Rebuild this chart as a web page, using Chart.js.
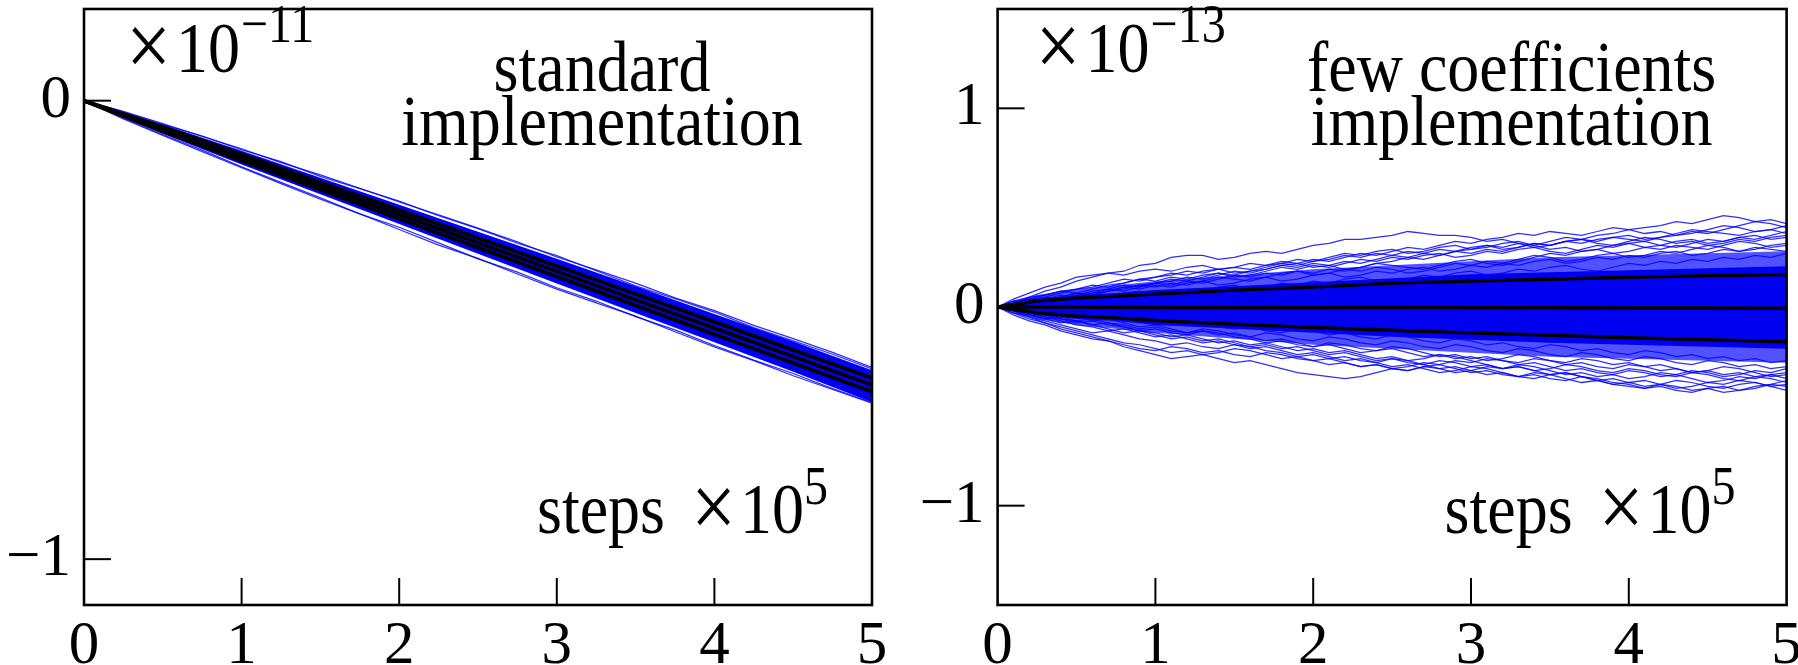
<!DOCTYPE html>
<html>
<head>
<meta charset="utf-8">
<script src="https://cdn.jsdelivr.net/npm/chart.js@4.4.1/dist/chart.umd.min.js"></script>
<style>
  html, body { margin: 0; padding: 0; background: #fff; width: 1798px; height: 665px; overflow: hidden; }
  .panel { position: absolute; top: 0; height: 665px; }
  #wrapL { left: 0; width: 920px; }
  #wrapR { left: 900px; width: 898px; }
</style>
</head>
<body>
<div class="panel" id="wrapL"><canvas id="left" width="920" height="665"></canvas></div>
<div class="panel" id="wrapR"><canvas id="right" width="898" height="665"></canvas></div>
<script>
// ---- axis ticks ----
const STEP_TICKS = [0, 1, 2, 3, 4, 5];          // steps, x 10^5
const LEFT_Y_TICKS = [-1, 0];                   // x 10^-11
const RIGHT_Y_TICKS = [-1, 0, 1];               // x 10^-13

// ---- standard implementation (values in hundredths of 1e-11) ----
const leftGrid = [0, 0.5, 1, 1.5, 2, 2.5, 3, 3.5, 4, 4.5, 5];
const leftMean = [0, -6.2, -12.4, -18.6, -24.8, -31, -37.2, -43.4, -49.6, -55.8, -62];
const leftSigmaUpper = [0, -5.7, -11.7, -17.8, -23.85, -29.95, -36.05, -42.15, -48.25, -54.38, -60.5];
const leftSigmaLower = [0, -6.7, -13.1, -19.4, -25.75, -32.05, -38.35, -44.65, -50.95, -57.22, -63.5];
const leftBandUpper = [0, -5.2, -10.9, -16.8, -22.7, -28.6, -34.5, -40.5, -46.5, -52.5, -58.8];
const leftBandLower = [0, -7.2, -13.9, -20.4, -26.9, -33.4, -39.9, -46.3, -52.7, -59.1, -65.8];

const leftWalkSteps = [0, 0.25, 0.5, 0.75, 1, 1.25, 1.5, 1.75, 2, 2.25, 2.5, 2.75, 3, 3.25, 3.5, 3.75, 4, 4.25, 4.5, 4.75, 5];
const leftWalks = [
  [0, -2.3, -5.0, -7.8, -10.5, -13.5, -16.2, -19.1, -22.1, -24.9, -27.8, -30.8, -34.1, -36.9, -39.8, -43.0, -45.8, -49.0, -51.9, -54.9, -58.2],
  [0, -4.0, -7.6, -11.1, -14.6, -18.1, -21.5, -24.7, -28.1, -31.5, -34.4, -37.8, -41.1, -44.1, -47.0, -50.4, -53.7, -56.7, -60.0, -63.0, -66.0],
  [0, -2.5, -5.2, -7.7, -10.7, -13.3, -16.5, -19.2, -21.9, -25.1, -27.9, -31.1, -33.8, -37.1, -40.4, -43.2, -46.1, -49.5, -52.4, -55.3, -58.5],
  [0, -3.8, -7.4, -10.8, -14.4, -17.8, -21.2, -24.7, -27.6, -31.0, -34.5, -37.4, -40.8, -43.7, -47.1, -50.0, -53.4, -56.6, -59.5, -62.8, -65.8]
];

// ---- few coefficients implementation (values in hundredths of 1e-13) ----
const rightGrid = [0, 0.25, 0.5, 0.75, 1, 1.5, 2, 2.5, 3, 3.5, 4, 4.5, 5];
const rightMean = [0, 0, 0, -0.2, -0.3, -0.3, -0.3, -0.2, -0.3, -0.4, -0.5, -0.5, -0.6];
const rightSigmaUpper = [0, 3, 4.5, 5.5, 6.5, 8.5, 10, 12, 13, 14, 15, 15.8, 16.3];
const rightSigmaLower = [0, -3, -4.5, -5.5, -6.8, -8.7, -10.3, -11.7, -13, -14.2, -15.5, -16.5, -17.5];
const rightCoreUpper = [0, 4, 6, 7, 8.5, 10.5, 12.5, 14.5, 16.5, 17.5, 18.5, 19.5, 20.5];
const rightCoreLower = [0, -4, -6, -7, -9, -11, -13, -15, -16.5, -18, -19, -20, -21];
const rightHaloUpper = [0, 6, 9, 11, 13, 16, 19, 21, 23, 25, 26, 27, 28];
const rightHaloLower = [0, -6, -9, -11, -13, -16, -19, -21, -23, -25, -26, -27, -28];

const walkSteps = [0, 0.1, 0.2, 0.3, 0.4, 0.5, 0.6, 0.7, 0.8, 0.9,
  1, 1.1, 1.2, 1.3, 1.4, 1.5, 1.6, 1.7, 1.8, 1.9,
  2, 2.1, 2.2, 2.3, 2.4, 2.5, 2.6, 2.7, 2.8, 2.9,
  3, 3.1, 3.2, 3.3, 3.4, 3.5, 3.6, 3.7, 3.8, 3.9,
  4, 4.1, 4.2, 4.3, 4.4, 4.5, 4.6, 4.7, 4.8, 4.9, 5];
const rightWalks = [
  [0,3,5,8,10,13,15,17,18,21, 22,25,26,26,24,25,27,28,27,29, 31,32,34,34,35,36,38,37,36,36, 35,33,34,32,30,31,33,34,36,37, 39,40,41,43,42,44,46,45,43,44, 42],
  [0,2,4,5,7,9,10,12,14,13, 15,16,18,17,19,20,19,21,22,21, 23,24,26,25,27,26,28,27,29,28, 30,31,29,30,32,31,33,32,34,35, 34,33,35,36,38,37,39,41,43,42, 40],
  [0,3,4,6,8,7,9,11,12,14, 13,15,14,16,17,15,16,18,20,19, 21,20,22,24,23,25,24,26,27,25, 26,28,27,29,30,28,27,29,31,30, 32,33,31,30,32,34,33,35,36,34, 35],
  [0,2,3,5,4,6,8,9,11,10, 12,11,13,12,14,16,15,17,16,18, 17,19,18,20,22,21,20,19,21,23, 24,22,21,23,25,27,26,28,29,27, 28,30,29,31,30,29,31,33,32,30, 31],
  [0,4,7,10,12,15,16,17,16,18, 19,18,20,21,19,20,22,21,23,22, 20,21,23,22,24,26,25,27,26,28, 29,31,30,32,31,33,35,34,33,35, 36,34,35,37,39,38,37,36,38,39, 37],
  [0,2,4,3,5,7,6,8,9,11, 12,14,13,15,17,16,18,19,21,20, 22,21,19,20,22,23,25,24,26,28, 27,29,28,30,32,31,33,34,32,31, 33,35,34,32,33,31,32,34,33,35, 36],
  [0,1,3,4,6,5,7,8,10,9, 11,10,12,13,11,12,14,15,13,14, 16,17,15,16,18,17,19,20,18,19, 21,20,22,21,23,24,22,23,25,24, 26,25,27,28,26,27,29,28,30,29, 28],
  [0,2,3,2,4,6,7,9,8,10, 12,13,15,14,16,18,17,19,21,22, 24,23,25,27,26,28,30,29,31,33, 32,34,35,37,36,38,37,36,38,40, 39,37,38,36,37,39,41,40,38,39, 41],
  [0,3,2,4,5,7,6,8,10,11, 10,12,11,13,15,14,13,15,17,18, 16,17,19,18,20,19,17,18,20,22, 21,23,22,24,26,25,23,24,26,27, 25,26,28,27,29,31,30,28,29,31, 32],
  [0,2,5,6,8,9,11,10,12,14, 15,17,16,18,19,17,18,20,22,24, 23,25,27,26,28,29,27,28,30,31, 29,30,32,33,31,29,30,28,29,31, 32,30,31,33,34,32,33,35,34,36, 38],
  [0,-3,-6,-8,-11,-13,-15,-17,-20,-22, -24,-26,-25,-24,-26,-28,-27,-29,-31,-33, -34,-35,-36,-35,-33,-31,-32,-30,-29,-31, -33,-32,-34,-35,-33,-34,-36,-38,-37,-39, -40,-41,-39,-40,-42,-41,-43,-42,-40,-39, -37],
  [0,-2,-4,-5,-7,-9,-10,-12,-11,-13, -15,-14,-16,-18,-17,-19,-21,-20,-22,-24, -23,-25,-27,-26,-28,-30,-29,-31,-33,-32, -30,-31,-33,-35,-34,-36,-37,-35,-36,-38, -39,-41,-40,-42,-43,-41,-40,-42,-41,-39, -40],
  [0,-3,-4,-6,-8,-7,-9,-11,-13,-12, -14,-16,-15,-17,-16,-18,-20,-19,-21,-20, -22,-24,-23,-25,-27,-26,-28,-29,-27,-28, -30,-29,-31,-30,-32,-31,-29,-30,-32,-33, -31,-32,-34,-35,-33,-34,-36,-37,-35,-34, -36],
  [0,-4,-7,-9,-12,-14,-16,-17,-19,-21, -22,-20,-21,-23,-22,-24,-25,-23,-24,-26, -27,-29,-28,-30,-29,-31,-30,-28,-29,-27, -28,-26,-27,-29,-28,-30,-32,-31,-33,-34, -32,-33,-35,-34,-36,-38,-37,-35,-36,-34, -33],
  [0,-2,-3,-5,-6,-8,-7,-9,-10,-12, -11,-13,-14,-12,-13,-15,-16,-18,-17,-19, -20,-18,-19,-21,-22,-20,-21,-23,-25,-24, -26,-25,-27,-28,-26,-27,-29,-28,-30,-31, -29,-30,-32,-31,-33,-32,-30,-31,-33,-35, -34],
  [0,-2,-4,-6,-5,-7,-9,-8,-10,-12, -13,-15,-14,-16,-18,-17,-19,-18,-20,-22, -21,-23,-22,-24,-26,-25,-27,-26,-24,-25, -27,-29,-31,-30,-32,-34,-33,-35,-37,-36, -38,-37,-39,-41,-40,-38,-39,-37,-38,-40, -42],
  [0,-1,-3,-4,-6,-7,-6,-8,-9,-11, -10,-12,-13,-11,-12,-14,-15,-13,-14,-16, -17,-15,-16,-18,-19,-17,-18,-20,-21,-19, -20,-22,-23,-21,-22,-24,-25,-23,-24,-26, -27,-25,-26,-28,-29,-27,-28,-30,-29,-31, -30],
  [0,-3,-5,-8,-10,-12,-14,-16,-18,-19, -21,-23,-22,-24,-23,-21,-22,-24,-26,-25, -27,-26,-28,-30,-29,-31,-32,-30,-31,-33, -32,-30,-31,-29,-30,-32,-34,-33,-35,-34, -36,-35,-33,-34,-32,-33,-35,-34,-32,-33, -31],
  [0,-2,-3,-2,-4,-5,-7,-6,-8,-10, -9,-11,-13,-12,-14,-13,-15,-17,-16,-18, -20,-19,-21,-23,-22,-21,-23,-25,-24,-26, -25,-27,-26,-24,-25,-27,-28,-26,-27,-29, -28,-30,-29,-31,-33,-32,-34,-33,-35,-36, -38],
  [0,-2,-5,-7,-9,-11,-13,-12,-14,-16, -17,-19,-18,-20,-21,-19,-20,-22,-23,-25, -24,-26,-25,-27,-28,-26,-27,-29,-31,-30, -32,-34,-33,-35,-36,-34,-33,-35,-37,-39, -38,-40,-39,-37,-38,-40,-41,-39,-38,-40, -39],
  [0,2,1,3,5,4,6,5,7,8, 6,7,9,8,10,11,9,10,12,11, 13,12,14,15,13,12,14,16,15,17, 18,16,17,19,18,20,21,19,18,20, 22,21,23,22,24,23,25,24,26,25, 27],
  [0,-1,-3,-2,-4,-5,-4,-6,-7,-6, -8,-9,-7,-8,-10,-11,-10,-12,-13,-11, -12,-14,-13,-15,-16,-14,-15,-17,-18,-16, -17,-19,-18,-20,-21,-19,-20,-22,-21,-23, -24,-22,-23,-25,-24,-26,-25,-27,-26,-28, -27]
];

// ---- drawing helpers ----
const SERIF = '"Liberation Serif", "Times New Roman", serif';
const BLUE_LINE = 'rgba(0,0,255,0.82)';
const TEXT_STRETCH = 1.13;   // the serif captions are slightly tall and narrow
const pts = (xs, ys) => xs.map((x, i) => ({ x, y: ys[i] / 100 }));
const minusFmt = v => (v < 0 ? '\u2212' + Math.abs(v) : String(v));

function line(data, color, width, order, extra) {
  return Object.assign({ data, borderColor: color, borderWidth: width, pointRadius: 0,
    fill: false, tension: 0, order }, extra || {});
}

function buildDatasets(p) {
  const ds = [];
  // mean and +/- one standard deviation
  ds.push(line(pts(p.grid, p.mean), '#000', p.statWidth, 0));
  ds.push(line(pts(p.grid, p.sigU), '#000', p.statWidth, 0));
  ds.push(line(pts(p.grid, p.sigL), '#000', p.statWidth, 0));
  // individual runs
  p.walks.forEach(w => ds.push(line(pts(p.walkSteps, w), BLUE_LINE, 1.25, 1)));
  // dense core of runs
  ds.push(line(pts(p.grid, p.coreU), 'rgba(0,0,0,0)', 0, 2, { fill: '+1', backgroundColor: p.coreColor }));
  ds.push(line(pts(p.grid, p.coreL), 'rgba(0,0,0,0)', 0, 2));
  if (p.haloU) {
    ds.push(line(pts(p.grid, p.haloU), 'rgba(0,0,0,0)', 0, 3, { fill: '+1', backgroundColor: 'rgba(0,0,255,0.68)' }));
    ds.push(line(pts(p.grid, p.haloL), 'rgba(0,0,0,0)', 0, 3));
  }
  return ds;
}

// frame, inward tick marks and in-plot captions
const framePlugin = {
  id: 'frame',
  afterDraw(chart, args, opts) {
    const { ctx, chartArea: a, scales } = chart;
    ctx.save();
    ctx.strokeStyle = '#000';
    ctx.lineWidth = 2;
    const tl = 27;
    scales.x.ticks.forEach(t => {
      const px = scales.x.getPixelForValue(t.value);
      if (px > a.left + 2 && px < a.right - 2) {
        ctx.beginPath(); ctx.moveTo(px, a.bottom); ctx.lineTo(px, a.bottom - tl); ctx.stroke();
      }
    });
    scales.y.ticks.forEach(t => {
      const py = scales.y.getPixelForValue(t.value);
      ctx.beginPath(); ctx.moveTo(a.left, py); ctx.lineTo(a.left + tl, py); ctx.stroke();
    });
    ctx.lineWidth = 2.6;
    ctx.strokeRect(a.left, a.top, a.right - a.left, a.bottom - a.top);

    ctx.fillStyle = '#000';
    ctx.textBaseline = 'alphabetic';
    const big = '64px ' + SERIF, small = '48px ' + SERIF, times = '80px ' + SERIF;
    const ox = a.left, oy = a.top;
    const put = (txt, x, y, font, align) => {
      ctx.save();
      ctx.font = font; ctx.textAlign = align || 'left';
      ctx.translate(ox + x, oy + y);
      ctx.scale(1, TEXT_STRETCH);
      ctx.fillText(txt, 0, 0);
      ctx.restore();
    };
    // scale factor of the vertical axis
    put('\u00d7', opts.exp.x - 2, opts.exp.y + 4, times);
    put('10', opts.exp.x + 48, opts.exp.y, big);
    put(opts.exp.power, opts.exp.x + 113, opts.exp.y - 30, small);
    // caption
    put(opts.title[0], opts.titleX, opts.titleY, big, 'center');
    put(opts.title[1], opts.titleX, opts.titleY + 54, big, 'center');
    // horizontal axis name and scale
    put('steps', opts.steps.x, opts.steps.y, big);
    put('\u00d7', opts.steps.x + 154, opts.steps.y + 4, times);
    put('10', opts.steps.x + 203, opts.steps.y, big);
    put('5', opts.steps.x + 267, opts.steps.y - 29, small);
    ctx.restore();
  }
};

function makeChart(id, p) {
  const tickFont = { family: SERIF, size: 61 };
  return new Chart(document.getElementById(id), {
    type: 'line',
    data: { datasets: buildDatasets(p) },
    plugins: [framePlugin],
    options: {
      responsive: false,
      animation: false,
      events: [],
      layout: { padding: p.padding, autoPadding: false },
      plugins: { legend: { display: false }, tooltip: { enabled: false }, frame: p.captions },
      scales: {
        x: {
          type: 'linear', min: 0, max: 5,
          afterBuildTicks: s => { s.ticks = STEP_TICKS.map(v => ({ value: v })); },
          afterFit: s => { s.height = 60; s.paddingLeft = 0; s.paddingRight = 0; },
          grid: { display: false, drawTicks: false },
          border: { display: false },
          ticks: { font: tickFont, color: '#000', padding: 5, maxRotation: 0, autoSkip: false, callback: minusFmt }
        },
        y: {
          type: 'linear', min: p.yMin, max: p.yMax,
          afterBuildTicks: s => { s.ticks = p.yTicks.map(v => ({ value: v })); },
          afterFit: s => { s.width = p.yWidth; s.paddingTop = 0; s.paddingBottom = 0; },
          grid: { display: false, drawTicks: false },
          border: { display: false },
          ticks: { font: tickFont, color: '#000', padding: 13, autoSkip: false, callback: minusFmt }
        }
      }
    }
  });
}

makeChart('left', {
  grid: leftGrid, mean: leftMean, sigU: leftSigmaUpper, sigL: leftSigmaLower,
  coreU: leftBandUpper, coreL: leftBandLower, coreColor: '#0000f4', statWidth: 3.8,
  walkSteps: leftWalkSteps, walks: leftWalks,
  yMin: -1.1, yMax: 0.2, yTicks: LEFT_Y_TICKS, yWidth: 84,
  padding: { left: 0, top: 9, right: 48, bottom: 0 },
  captions: {
    exp: { x: 44, y: 63, power: '\u221211' },
    title: ['standard', 'implementation'], titleX: 518, titleY: 82,
    steps: { x: 453, y: 524 }
  }
});

makeChart('right', {
  grid: rightGrid, mean: rightMean, sigU: rightSigmaUpper, sigL: rightSigmaLower,
  coreU: rightCoreUpper, coreL: rightCoreLower, coreColor: '#0000f0', statWidth: 3.4,
  haloU: rightHaloUpper, haloL: rightHaloLower,
  walkSteps: walkSteps, walks: rightWalks,
  yMin: -1.5, yMax: 1.5, yTicks: RIGHT_Y_TICKS, yWidth: 97.6,
  padding: { left: 0, top: 9, right: 11.4, bottom: 0 },
  captions: {
    exp: { x: 40, y: 63, power: '\u221213' },
    title: ['few coefficients', 'implementation'], titleX: 514, titleY: 82,
    steps: { x: 447, y: 524 }
  }
});
</script>
</body>
</html>
